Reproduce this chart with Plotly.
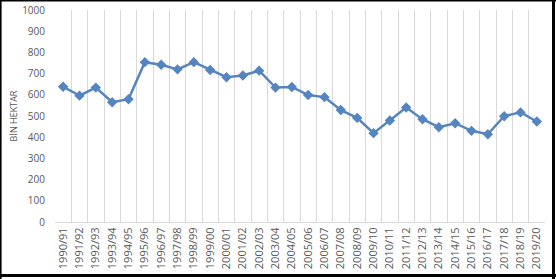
import plotly.graph_objects as go

seasons = ["1990/91", "1991/92", "1992/93", "1993/94", "1994/95", "1995/96", "1996/97",
           "1997/98", "1998/99", "1999/00", "2000/01", "2001/02", "2002/03", "2003/04",
           "2004/05", "2005/06", "2006/07", "2007/08", "2008/09", "2009/10", "2010/11",
           "2011/12", "2012/13", "2013/14", "2014/15", "2015/16", "2016/17", "2017/18",
           "2018/19", "2019/20"]
area = [638, 596, 634, 565, 579, 754, 742, 720, 754, 717, 683, 691, 714, 634,
        637, 599, 589, 528, 491, 419, 479, 540, 485, 447, 466, 430, 414, 499,
        517, 474]
y_ticks = [0, 100, 200, 300, 400, 500, 600, 700, 800, 900, 1000]
y_title = "BİN HEKTAR"

W, H = 556, 279
L, R, T, B = 55, 11, 10, 57
pw, ph = W - L - R, H - T - B

fig = go.Figure(go.Scatter(
    x=seasons, y=area, mode="lines+markers",
    line=dict(color="#5585c0", width=2.5),
    marker=dict(symbol="diamond", size=8, color="#5585c0"),
))

txt = "#595959"
fig.update_layout(
    width=W, height=H, margin=dict(l=L, r=R, t=T, b=B),
    paper_bgcolor="white", plot_bgcolor="white", showlegend=False,
    font=dict(family="Open Sans", color=txt),
    xaxis=dict(type="category", range=[-0.5, len(seasons) - 0.5], automargin=False,
               showgrid=True, gridcolor="#d9d9d9", gridwidth=1, tickson="boundaries",
               showline=True, linecolor="#d9d9d9", linewidth=1,
               ticks="outside", ticklen=4, tickcolor="rgba(0,0,0,0)",
               tickangle=-90, tickfont=dict(size=11, color=txt),
               zeroline=False, fixedrange=True),
    yaxis=dict(range=[0, 1000], tickvals=y_ticks, showgrid=False, zeroline=False,
               automargin=False,
               showline=False, ticks="outside", ticklen=7, tickcolor="rgba(0,0,0,0)",
               tickfont=dict(size=10, color=txt),
               title=dict(text=y_title, font=dict(size=9, color=txt), standoff=2)),
)

# chart frame
def px2x(p):
    return (p - L) / pw

def px2y(p):
    return (H - B - p) / ph

frame = dict(type="line", xref="paper", yref="paper", layer="above")
fig.add_shape(**frame, x0=px2x(0.8), x1=px2x(0.8),
              y0=px2y(0), y1=px2y(H), line=dict(color="black", width=1.6))
fig.add_shape(**frame, x0=px2x(0), x1=px2x(W),
              y0=px2y(0.8), y1=px2y(0.8), line=dict(color="black", width=1.6))
fig.add_shape(**frame, x0=px2x(W - 2.5), x1=px2x(W - 2.5),
              y0=px2y(0), y1=px2y(H), line=dict(color="black", width=3))
fig.add_shape(**frame, x0=px2x(0), x1=px2x(W),
              y0=px2y(H - 3.5), y1=px2y(H - 3.5), line=dict(color="black", width=3))

fig.write_html("out.html", config={"displayModeBar": False})
